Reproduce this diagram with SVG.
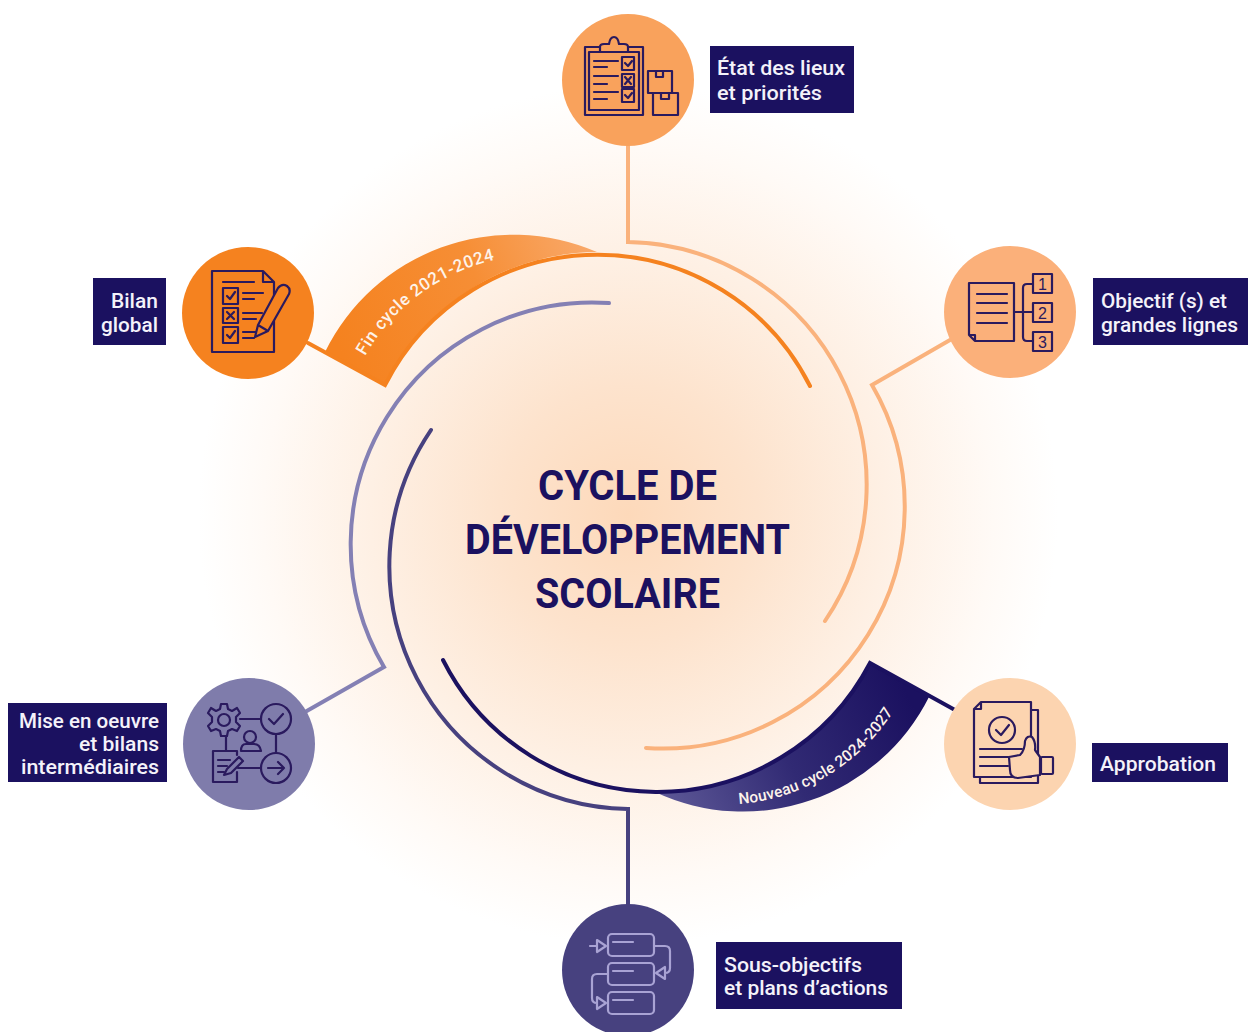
<svg xmlns="http://www.w3.org/2000/svg" width="1248" height="1032" viewBox="0 0 1248 1032">
<style>
.lab{font-family:Roboto,"Liberation Sans",sans-serif;font-weight:500;font-size:21px;fill:#f4f2fa}
.box{fill:#1b1160}
.ttl{font-family:Roboto,"Liberation Sans",sans-serif;font-weight:700;font-size:42px;fill:#1b1160}
.rib{font-family:Roboto,"Liberation Sans",sans-serif;font-weight:500;font-size:17px;fill:#fdf3ea}
.rib2{font-family:Roboto,"Liberation Sans",sans-serif;font-weight:500;font-size:15.500px;fill:#fdf3ea}
.i{fill:none;stroke:#2a1a5e;stroke-width:2.2;stroke-linecap:round;stroke-linejoin:round}
.l{fill:none;stroke:#a9a3d4;stroke-width:2.2;stroke-linecap:round;stroke-linejoin:round}
.c{fill:none;stroke-width:4;stroke-linecap:round;stroke-linejoin:miter}
.num{font-family:"Liberation Sans",sans-serif;font-weight:400;font-size:16px;fill:#2a1a5e;text-anchor:middle}
</style>
<defs>
<radialGradient id="bg" gradientUnits="userSpaceOnUse" cx="628" cy="515" r="430">
<stop offset="0" stop-color="#fdd9ba"/><stop offset="0.3" stop-color="#fde3cd"/><stop offset="0.6" stop-color="#fef0e4"/><stop offset="0.85" stop-color="#fffaf6"/><stop offset="1" stop-color="#fff"/>
</radialGradient>
<linearGradient id="ro" gradientUnits="userSpaceOnUse" x1="340" y1="350" x2="597" y2="245">
<stop offset="0" stop-color="#f5821f"/><stop offset="0.55" stop-color="#f68e35"/><stop offset="1" stop-color="#f9aa6c"/>
</linearGradient>
<linearGradient id="rn" gradientUnits="userSpaceOnUse" x1="900" y1="680" x2="655" y2="800">
<stop offset="0" stop-color="#1b1160"/><stop offset="0.5" stop-color="#312a74"/><stop offset="1" stop-color="#5f5a98"/>
</linearGradient>
<path id="pf" d="M365 356 A200 200 0 0 1 505 258"/>
<path id="pn" d="M739 804 A200 200 0 0 0 900 700"/>
</defs>
<rect width="1248" height="1032" fill="#fff"/>
<circle cx="628" cy="515" r="430" fill="url(#bg)"/>

<g id="connectors">
<path d="M325 352 A210 210 0 0 1 597 252 A238 238 0 0 0 385 385 Z" fill="url(#ro)"/>
<path d="M870 663 A240 240 0 0 1 655 792 A208 208 0 0 0 929 697 Z" fill="url(#rn)"/>
<path class="c" stroke="#fab27c" d="M628 145 V242 A243 243 0 0 1 825 621"/>
<path class="c" stroke="#fab27c" d="M950 340 L872 385 A242 242 0 0 1 646 748"/>
<path class="c" stroke="#f5821f" stroke-linecap="butt" d="M308 343 L385 385 A238 238 0 0 1 810 386"/>
<path class="c" stroke="#1b1160" stroke-linecap="butt" d="M443 660 A240 240 0 0 0 870 663 L955 710"/>
<path class="c" stroke="#47417f" d="M628 905 V809 A243 243 0 0 1 431 430"/>
<path class="c" stroke="#8480b4" d="M305 712 L384 667 A242 242 0 0 1 609 303"/>
</g>

<text class="rib"><textPath href="#pf" textLength="166">Fin cycle 2021-2024</textPath></text>
<text class="rib2"><textPath href="#pn" textLength="186">Nouveau cycle 2024-2027</textPath></text>

<g id="title">
<text class="ttl" x="538" y="500" textLength="179" lengthAdjust="spacingAndGlyphs">CYCLE DE</text>
<text class="ttl" x="465" y="554" textLength="325" lengthAdjust="spacingAndGlyphs">DÉVELOPPEMENT</text>
<text class="ttl" x="535" y="608" textLength="185" lengthAdjust="spacingAndGlyphs">SCOLAIRE</text>
</g>

<g id="node-etat">
<circle cx="628" cy="80" r="66" fill="#f9a25c"/>
<path class="i" d="M600 47 H585 V115 H643 V47 H628 M600 52 H589 V110 H639 V52 H628"/>
<path class="i" d="M600 52 V47 Q600 44 604 44 H609 Q610 37 614 37 Q618 37 619 44 H624 Q628 44 628 47 V52 Z"/>
<path class="i" stroke-width="2.8" d="M594 61 H618 M594 67 H607 M594 76 H618 M594 84 H607 M594 92 H618 M594 99 H607"/>
<rect class="i" x="622" y="57" width="12" height="13"/><rect class="i" x="622" y="74" width="12" height="13"/><rect class="i" x="622" y="89" width="12" height="13"/>
<path class="i" d="M625 63 L628 66 L632 61 M625 77 L631 84 M631 77 L625 84 M625 95 L628 98 L632 93"/>
<rect class="i" x="648" y="71" width="24" height="22"/><rect class="i" x="653" y="93" width="25" height="22"/>
<path class="i" d="M656 71 V77 H663 V71 M661 93 V99 H669 V93"/>
</g>
<g id="label-etat">
<rect class="box" x="710" y="46" width="144" height="67"/>
<text class="lab" x="717" y="75" textLength="128" lengthAdjust="spacingAndGlyphs">État des lieux</text>
<text class="lab" x="717" y="100" textLength="105" lengthAdjust="spacingAndGlyphs">et priorités</text>
</g>

<g id="node-objectif">
<circle cx="1010" cy="312" r="66" fill="#fbb07a"/>
<path class="i" d="M969 283 H1014 V341 H975 L969 335 Z M969 335 H975 V341"/>
<path class="i" d="M977 294 H1007 M977 303 H1007 M977 313 H1007 M977 323 H1007"/>
<path class="i" d="M1033 284 H1027 Q1023 284 1023 288 V337 Q1023 341 1027 341 H1033 M1014 312 H1033"/>
<rect class="i" x="1033" y="274" width="19" height="19"/><rect class="i" x="1033" y="303" width="19" height="19"/><rect class="i" x="1033" y="332" width="19" height="19"/>
<text class="num" x="1042.5" y="289.500">1</text><text class="num" x="1042.5" y="318.500">2</text><text class="num" x="1042.5" y="347.500">3</text>
</g>
<g id="label-objectif">
<rect class="box" x="1093" y="278" width="155" height="67"/>
<text class="lab" x="1101" y="308" textLength="126" lengthAdjust="spacingAndGlyphs">Objectif (s) et</text>
<text class="lab" x="1101" y="332" textLength="137" lengthAdjust="spacingAndGlyphs">grandes lignes</text>
</g>

<g id="node-bilan">
<circle cx="248" cy="313" r="66" fill="#f5821f"/>
<path class="i" d="M212 271 H263 L274 282 V352 H212 Z M263 271 V282 H274"/>
<path class="i" d="M223 282 H254 M243 293 H263 M243 299 H254 M243 313 H262 M243 319 H256 M243 332 H258 M243 338 H254"/>
<rect class="i" x="223" y="288" width="15" height="16"/><rect class="i" x="223" y="308" width="15" height="15"/><rect class="i" x="223" y="327" width="15" height="16"/>
<path class="i" d="M227 296 L230 299 L235 292 M227 312 L234 319 M234 312 L227 319 M227 335 L230 338 L235 331"/>
<path class="i" style="fill:#f5821f" d="M255 337 L258 325 L278 288 Q282 283 287 286 Q291 289 289 294 L268 331 Z M258 325 L268 331"/>
</g>
<g id="label-bilan">
<rect class="box" x="93" y="278" width="73" height="67"/>
<text class="lab" x="111" y="308" textLength="47" lengthAdjust="spacingAndGlyphs">Bilan</text>
<text class="lab" x="101" y="332" textLength="57" lengthAdjust="spacingAndGlyphs">global</text>
</g>

<g id="node-mise">
<circle cx="249" cy="744" r="66" fill="#7f7cab"/>
<circle class="i" cx="224" cy="720" r="6"/>
<path class="i" d="M221 704 H227 L228 709 L232 711 L237 708 L240 713 L236 717 V722 L240 726 L237 731 L232 729 L228 731 L227 736 H221 L220 731 L216 729 L211 731 L208 726 L212 722 V717 L208 713 L211 708 L216 711 L220 709 Z"/>
<circle class="i" cx="276" cy="719" r="15"/><circle class="i" cx="276" cy="768" r="15"/>
<path class="i" d="M269 719 L274 724 L283 714 M268 768 H284 M278 762 L284 768 L278 774"/>
<path class="i" d="M240 719 H261 M276 734 V753 M238 768 H261 M226 736 V751"/>
<circle class="i" cx="250" cy="737" r="6"/><path class="i" d="M241 751 Q241 744 246 744 H254 Q260 744 261 751 Z"/>
<path class="i" d="M237 755 V751 H213 V782 H237 V772 M218 760 H230 M218 766 H227 M218 772 H224"/>
<path class="i" d="M224 775 L227 769 L239 757 L243 761 L231 773 Z"/>
</g>
<g id="label-mise">
<rect class="box" x="8" y="703" width="159" height="79"/>
<text class="lab" x="19" y="728" textLength="140" lengthAdjust="spacingAndGlyphs">Mise en oeuvre</text>
<text class="lab" x="79" y="751" textLength="80" lengthAdjust="spacingAndGlyphs">et bilans</text>
<text class="lab" x="21" y="774" textLength="138" lengthAdjust="spacingAndGlyphs">intermédiaires</text>
</g>

<g id="node-sous">
<circle cx="628" cy="970" r="66" fill="#47417f"/>
<rect class="l" x="608" y="934" width="46" height="22" rx="4"/><rect class="l" x="608" y="963" width="46" height="22" rx="4"/><rect class="l" x="608" y="992" width="46" height="22" rx="4"/>
<path class="l" d="M613 942 H633 M613 971 H633 M613 1000 H633"/>
<path class="l" d="M590 946 H597 M597 940 L606 946 L597 952 Z M654 946 H665 Q670 946 670 951 V968 Q670 973 665 973 M665 967 V979 L656 973 Z M608 974 H597 Q592 974 592 979 V998 Q592 1003 597 1003 M597 997 L606 1003 L597 1009 Z"/>
</g>
<g id="label-sous">
<rect class="box" x="716" y="942" width="186" height="67"/>
<text class="lab" x="724" y="972" textLength="138" lengthAdjust="spacingAndGlyphs">Sous-objectifs</text>
<text class="lab" x="724" y="995" textLength="164" lengthAdjust="spacingAndGlyphs">et plans d’actions</text>
</g>

<g id="node-approbation">
<circle cx="1010" cy="744" r="66" fill="#fcd4b0"/>
<path class="i" d="M1031 710 H1038 V783 H980 V777"/>
<path class="i" d="M981 702 H1031 V777 H974 V709 Z M974 709 H981 V702"/>
<circle class="i" cx="1002" cy="730" r="13"/><path class="i" d="M996 730 L1001 735 L1009 725"/>
<path class="i" d="M980 749 H1022 M980 757 H1008 M980 766 H1008"/>
<path class="i" style="fill:#fcd4b0" d="M1009 757 L1020 755 Q1025 750 1025 741 Q1027 735 1032 737 Q1036 742 1035 750 L1040 757 V775 L1018 778 Q1010 778 1010 770 Z"/>
<rect class="i" x="1041" y="757" width="12" height="17" rx="1"/>
</g>
<g id="label-approbation">
<rect class="box" x="1092" y="743" width="136" height="39"/>
<text class="lab" x="1100" y="771" textLength="116" lengthAdjust="spacingAndGlyphs">Approbation</text>
</g>
</svg>
